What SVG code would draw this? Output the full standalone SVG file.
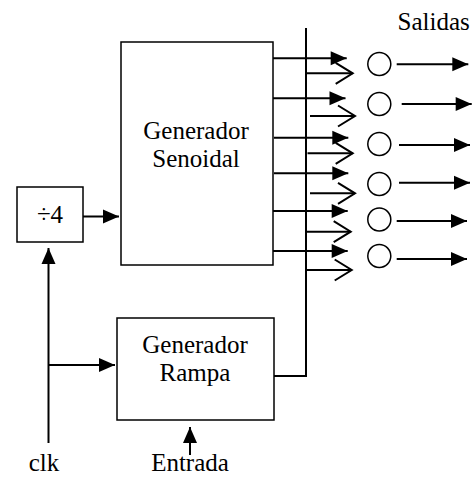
<svg xmlns="http://www.w3.org/2000/svg" width="476" height="477" viewBox="0 0 476 477">
<style>
.box{fill:#fff;stroke:#000;stroke-width:1.5}
text{font-family:'Liberation Serif','Times New Roman','DejaVu Serif',serif;font-size:25px;fill:#000;text-anchor:middle}
.ln{stroke:#000;stroke-width:2;fill:none}
.arr{marker-end:url(#ah)}
.chev{marker-end:url(#ch)}
.circ{fill:#fff;stroke:#000;stroke-width:1.5}
</style>
<defs>
<marker id="ah" markerUnits="userSpaceOnUse" markerWidth="17" markerHeight="15" refX="16" refY="7" orient="auto" overflow="visible">
<path d="M0,0 L16,7 L0,14 Z" fill="#000"/>
</marker>
<marker id="ch" markerUnits="userSpaceOnUse" markerWidth="19" markerHeight="23" refX="17" refY="10.5" orient="auto" overflow="visible">
<path d="M0,0 L17,10.5 L0,21" fill="none" stroke="#000" stroke-width="2"/>
</marker>
</defs>
<rect width="476" height="477" fill="#fff"/>
<g id="connectors">
<line class="ln arr" x1="83" y1="216.5" x2="119" y2="216.5"/>
<line class="ln arr" x1="48.5" y1="443" x2="48.5" y2="248"/>
<line class="ln arr" x1="48.5" y1="365" x2="115" y2="365"/>
<line class="ln arr" x1="190" y1="455" x2="190" y2="427"/>
<polyline class="ln" points="274,376 306,376 306,28"/>
<line class="ln arr" x1="273" y1="58.3" x2="346.7" y2="58.3"/>
<line class="ln arr" x1="273" y1="98.3" x2="345.5" y2="98.3"/>
<line class="ln arr" x1="274" y1="137.7" x2="348.3" y2="137.7"/>
<line class="ln arr" x1="274" y1="173.3" x2="348.3" y2="173.3"/>
<line class="ln arr" x1="273" y1="211" x2="347.7" y2="211"/>
<line class="ln arr" x1="273" y1="251" x2="347.7" y2="251"/>
<line class="ln chev" x1="306" y1="73.3" x2="352.7" y2="73.3"/>
<line class="ln chev" x1="310" y1="116" x2="355" y2="116"/>
<line class="ln chev" x1="307.5" y1="153.3" x2="352.7" y2="153.3"/>
<line class="ln chev" x1="310" y1="193.3" x2="355" y2="193.3"/>
<line class="ln chev" x1="306" y1="231.7" x2="350.7" y2="231.7"/>
<line class="ln chev" x1="306" y1="270" x2="351.7" y2="270"/>
<line class="ln arr" x1="396.7" y1="64.3" x2="468.3" y2="64.3"/>
<line class="ln arr" x1="401.7" y1="104" x2="471.7" y2="104"/>
<line class="ln arr" x1="399" y1="145" x2="470" y2="145"/>
<line class="ln arr" x1="399" y1="182.7" x2="470" y2="182.7"/>
<line class="ln arr" x1="396.7" y1="221" x2="467" y2="221"/>
<line class="ln arr" x1="396.7" y1="259" x2="467" y2="259"/>
</g>
<g id="div4">
<rect class="box" x="17" y="187" width="66" height="55"/>
<text x="50" y="223">÷4</text>
</g>
<g id="sine">
<rect class="box" x="121" y="42" width="152" height="223"/>
<text x="196" y="139.3">Generador</text>
<text x="196" y="167.3">Senoidal</text>
</g>
<g id="ramp">
<rect class="box" x="117" y="318" width="157" height="102"/>
<text x="195" y="353">Generador</text>
<text x="195" y="381">Rampa</text>
</g>
<g id="out1"><circle class="circ" cx="379.3" cy="64" r="11.5"/></g>
<g id="out2"><circle class="circ" cx="379.3" cy="104" r="11.5"/></g>
<g id="out3"><circle class="circ" cx="379.3" cy="144" r="11.5"/></g>
<g id="out4"><circle class="circ" cx="379.3" cy="184" r="11.5"/></g>
<g id="out5"><circle class="circ" cx="379.3" cy="219.5" r="11.5"/></g>
<g id="out6"><circle class="circ" cx="379.3" cy="256" r="11.5"/></g>
<g id="clk"><text x="44" y="471">clk</text></g>
<g id="entrada"><text x="190" y="471">Entrada</text></g>
<g id="salidas"><text x="433.7" y="30">Salidas</text></g>
</svg>
